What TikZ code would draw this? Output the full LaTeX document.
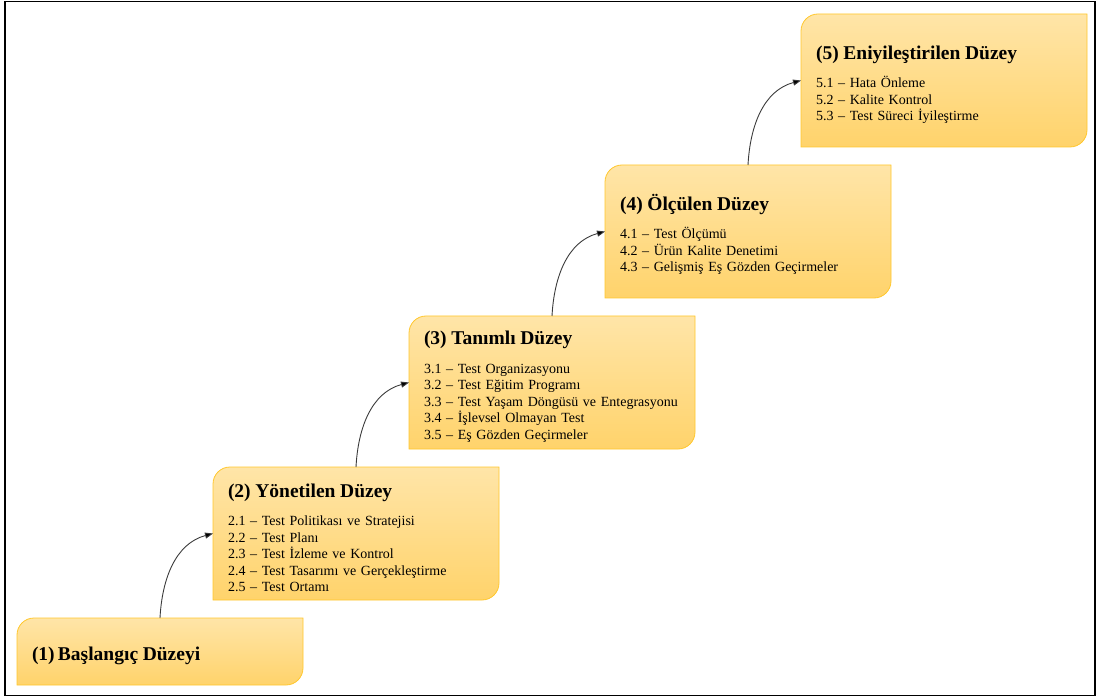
\documentclass[tikz,border=0pt]{standalone}
\usepackage{fontspec}
\setmainfont{Liberation Serif}
\usetikzlibrary{arrows.meta,positioning,backgrounds}
\definecolor{BoxTop}{HTML}{FFE5A8}
\definecolor{BoxBottom}{HTML}{FFD36B}
\definecolor{BoxLine}{HTML}{FFC72C}
\definecolor{LinkGray}{HTML}{3A3A3A}
\newcommand{\LevelTitle}[1]{{\fontsize{19.5}{22}\selectfont\bfseries\rule{0pt}{22pt}#1}}

\begin{document}
\begin{tikzpicture}[
			x = 1pt, y = 1pt,
			node distance = 18pt and 196pt,
			LevelBox/.style={minimum width=286pt, minimum height=133pt,
				text width=256pt, inner xsep=15pt, inner ysep=0pt,
				align=left, outer sep=0pt,
				font=\fontsize{14}{16.5}\selectfont},
			Link/.style={draw=LinkGray, line width=0.9pt,
				-{Triangle[length=8pt, width=6pt, fill=black]}},
			]
			\useasboundingbox (0,0) rectangle (1097,697);
			\draw[line width=1.2pt] (5,1.5) rectangle (1095,695.5);
			% levels
			\node [LevelBox, minimum height=67pt, anchor=south west] (l1) at (17,12)
				{\LevelTitle{(1)\,Başlangıç Düzeyi}};
			\node [LevelBox, above right=of l1.north west] (l2)
				{\LevelTitle{(2) Yönetilen Düzey}\\[12pt]
				2.1 – Test Politikası ve Stratejisi\\
				2.2 – Test Planı\\
				2.3 – Test İzleme ve Kontrol\\
				2.4 – Test Tasarımı ve Gerçekleştirme\\
				2.5 – Test Ortamı};
			\node [LevelBox, above right=of l2.north west] (l3)
				{\LevelTitle{(3) Tanımlı Düzey}\\[12pt]
				3.1 – Test Organizasyonu\\
				3.2 – Test Eğitim Programı\\
				3.3 – Test Yaşam Döngüsü ve Entegrasyonu\\
				3.4 – İşlevsel Olmayan Test\\
				3.5 – Eş Gözden Geçirmeler};
			\node [LevelBox, above right=of l3.north west] (l4)
				{\LevelTitle{(4) Ölçülen Düzey}\\[12pt]
				4.1 – Test Ölçümü\\
				4.2 – Ürün Kalite Denetimi\\
				4.3 – Gelişmiş Eş Gözden Geçirmeler};
			\node [LevelBox, above right=of l4.north west] (l5)
				{\LevelTitle{(5) Eniyileştirilen Düzey}\\[12pt]
				5.1 – Hata Önleme\\
				5.2 – Kalite Kontrol\\
				5.3 – Test Süreci İyileştirme};
			% boxes behind the text
			\begin{scope}[on background layer]
				\foreach \n in {l1,l2,l3,l4,l5}
					\shade[top color=BoxTop, bottom color=BoxBottom, draw=BoxLine, line width=0.8pt]
						(\n.south west) -- ([yshift=-17pt]\n.north west)
						arc[start angle=180, end angle=90, radius=17pt]
						-- (\n.north east) -- ([yshift=17pt]\n.south east)
						arc[start angle=0, end angle=-90, radius=17pt] -- cycle;
			\end{scope}
			% steps
			\foreach \a/\b in {l1/l2,l2/l3,l3/l4,l4/l5}
				\draw [Link] (\a.north) to [out=87, in=195] (\b.west);
		\end{tikzpicture}
\end{document}
